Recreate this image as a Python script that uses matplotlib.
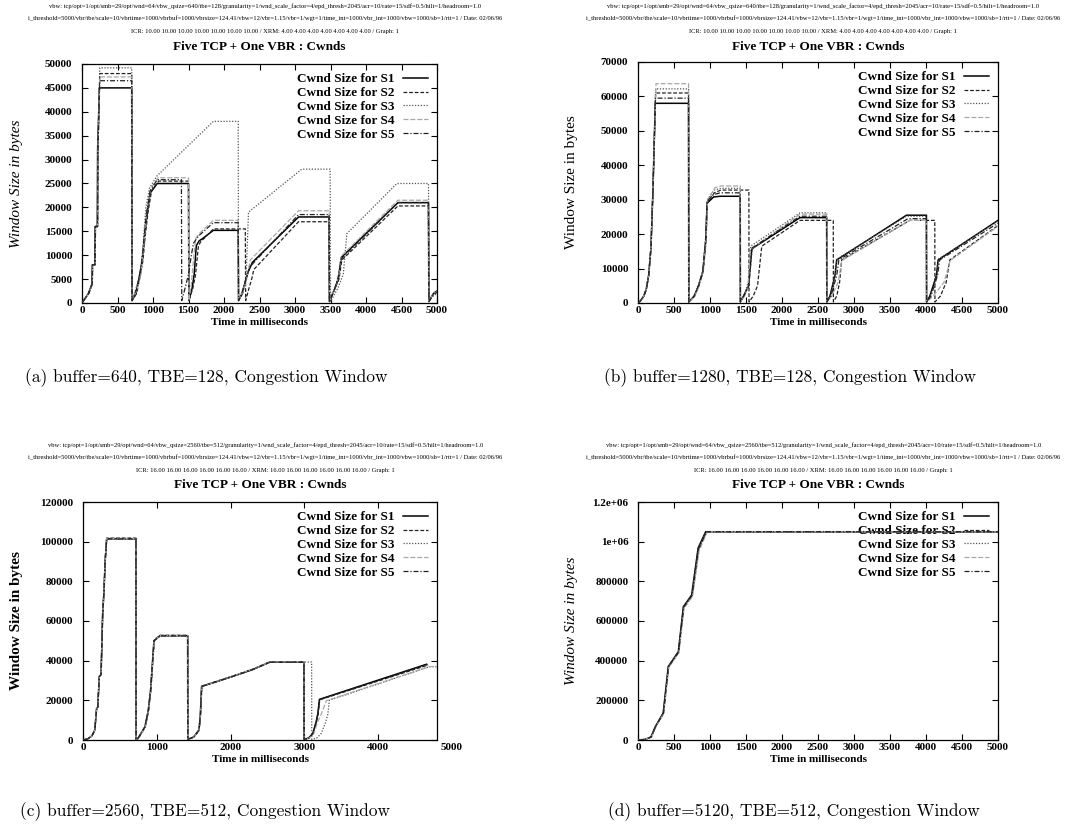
import matplotlib
matplotlib.use("Agg")
import matplotlib.pyplot as plt

# ---- data : (time ms, cwnd bytes) knots ----

# (a) buffer=640, TBE=128
a_s1 = [(0,0),(90,2000),(140,4000),(145,8000),(180,8000),(185,16000),(215,16000),(220,32000),(245,45000),(700,45000),(705,500),(760,2000),(800,5000),(850,9000),(880,14000),(920,19000),(960,23000),(1060,25000),(1500,25000),(1505,500),(1550,3000),(1580,6000),(1610,12000),(1650,13000),(1700,13500),(1850,15200),(2200,15200),(2205,500),(2260,2000),(2300,4500),(2340,6500),(2400,8500),(3050,18000),(3480,18000),(3485,300),(3560,3000),(3610,5000),(3650,9500),(4450,21000),(4880,21000),(4885,300),(4950,2000),(5000,2500)]
a_s2 = [(0,0),(95,2000),(145,4000),(150,8000),(185,8000),(190,16000),(220,16000),(225,32000),(250,48000),(700,48000),(705,500),(770,2000),(810,5000),(860,9000),(890,14000),(930,19000),(980,23500),(1080,25500),(1500,25500),(1505,500),(1560,3000),(1600,6000),(1640,12000),(1680,13000),(1720,13500),(1850,15500),(2300,15500),(2305,500),(2350,3000),(2390,5000),(2420,7000),(3050,17000),(3480,17000),(3485,300),(3560,3000),(3620,5000),(3660,9000),(4450,20300),(4880,20300),(4885,300),(4950,2000),(5000,2500)]
a_s3 = [(0,0),(95,2000),(145,4000),(150,8000),(185,8000),(190,16000),(220,16000),(225,32000),(250,49200),(700,49200),(705,500),(760,3000),(820,6000),(860,12000),(900,20000),(950,24000),(1050,26500),(1850,38000),(2200,38000),(2205,500),(2260,2500),(2310,5000),(2345,19000),(3095,28000),(3495,28000),(3500,300),(3600,3000),(3680,6000),(3730,14500),(4435,25000),(4880,25000),(4885,300),(4950,1500),(5000,2000)]
a_s4 = [(0,0),(95,2000),(145,4000),(150,8000),(185,8000),(190,16000),(220,16000),(225,32000),(250,47300),(700,47300),(705,500),(780,3000),(830,6000),(870,12000),(910,19000),(970,24000),(1070,26200),(1500,26200),(1505,500),(1540,4000),(1570,9000),(1600,13500),(1650,14500),(1850,17300),(2200,17300),(2205,500),(2270,2500),(2320,5000),(2370,9000),(3050,19300),(3480,19300),(3485,300),(3560,3000),(3620,6000),(3650,9800),(4450,21500),(4880,21500),(4885,300),(4950,2000),(5000,2300)]
a_s5 = [(0,0),(95,2000),(145,4000),(150,8000),(185,8000),(190,16000),(220,16000),(225,32000),(250,46500),(700,46500),(705,500),(770,3000),(820,6000),(860,11000),(900,18000),(960,23500),(1060,25800),(1400,25800),(1405,500),(1450,3000),(1500,6000),(1540,10000),(1570,12500),(1640,14000),(1850,16800),(2200,16800),(2205,500),(2260,2500),(2310,5000),(2360,7500),(3050,18500),(3480,18500),(3485,300),(3560,3000),(3610,5500),(3650,9200),(4450,21000),(4880,21000),(4885,300),(4950,1800),(5000,2200)]

# (b) buffer=1280, TBE=128
b_s1 = [(0,0),(30,500),(80,2000),(115,4000),(148,8000),(180,16000),(208,33000),(240,58000),(702,58000),(705,300),(780,2000),(840,5000),(900,9000),(940,18000),(960,29000),(1050,30800),(1140,31000),(1420,31000),(1422,300),(1465,2000),(1534,5000),(1580,15500),(1600,16000),(2250,24800),(2620,24800),(2622,300),(2666,2000),(2736,8000),(2759,12500),(3729,25500),(4006,25500),(4008,300),(4053,2000),(4145,8000),(4168,12500),(5000,24000)]
b_s2 = [(0,0),(30,500),(80,2000),(115,4000),(148,8000),(180,16000),(208,33000),(245,61000),(702,61000),(705,300),(785,2000),(845,5000),(905,9000),(945,18000),(965,29500),(1060,32000),(1150,32800),(1540,32800),(1542,300),(1600,2000),(1660,5000),(1719,16500),(2250,24000),(2712,24000),(2714,300),(2760,2000),(2800,6000),(2828,12500),(3775,24000),(4122,24000),(4124,300),(4200,2000),(4280,6000),(4330,12500),(5000,22500)]
b_s3 = [(0,0),(30,500),(80,2000),(115,4000),(148,8000),(180,16000),(208,33000),(245,62200),(702,62200),(705,300),(780,2000),(840,5000),(900,9500),(940,19000),(962,30000),(1060,32800),(1150,33300),(1420,33300),(1422,300),(1470,2000),(1530,6000),(1565,16500),(2250,26200),(2620,26200),(2622,300),(2670,2000),(2740,8000),(2765,12800),(3729,25200),(4006,25200),(4008,300),(4060,2000),(4150,8000),(4175,12800),(5000,23800)]
b_s4 = [(0,0),(30,500),(80,2000),(115,4000),(148,8000),(180,16000),(208,33000),(250,63700),(702,63700),(705,300),(790,2000),(850,5000),(905,9500),(945,19000),(968,30000),(1070,33500),(1150,34000),(1420,34000),(1422,300),(1480,2000),(1530,5000),(1560,15500),(2250,25800),(2620,25800),(2622,300),(2690,2000),(2780,6000),(2830,12300),(3775,24000),(4006,24000),(4008,300),(4100,2000),(4250,6000),(4335,12300),(5000,22300)]
b_s5 = [(0,0),(30,500),(80,2000),(115,4000),(148,8000),(180,16000),(208,33000),(242,59500),(702,59500),(705,300),(780,2000),(840,5000),(900,9200),(940,18500),(960,29500),(1050,31500),(1140,32000),(1420,32000),(1422,300),(1470,2000),(1540,5000),(1585,16000),(2250,25200),(2620,25200),(2622,300),(2680,2000),(2760,8000),(2790,12500),(3750,24500),(4006,24500),(4008,300),(4070,2000),(4160,8000),(4190,12500),(5000,23200)]

# (c) buffer=2560, TBE=512
c_s1 = [(0,0),(60,500),(120,2000),(160,5000),(185,16000),(200,16500),(221,32000),(245,33000),(267,64000),(285,75000),(300,90000),(321,101500),(718,101500),(720,300),(745,800),(840,6700),(885,15000),(916,25000),(962,50000),(1043,52600),(1419,52600),(1421,300),(1500,1500),(1572,5000),(1590,12000),(1608,27000),(2025,32000),(2300,35500),(2535,39300),(2996,39300),(2998,300),(3060,1000),(3116,3300),(3160,9000),(3183,13000),(3206,20500),(4659,38200)]
c_s2 = [(0,0),(60,500),(120,2000),(160,5000),(185,16000),(200,16500),(221,32000),(245,33000),(267,64500),(285,75500),(300,90500),(321,101800),(718,101800),(720,300),(750,800),(845,6700),(890,15000),(920,25000),(966,50500),(1045,52800),(1419,52800),(1421,300),(1505,1500),(1575,5000),(1593,12000),(1612,27200),(2025,32200),(2300,35700),(2535,39500),(2996,39500),(2998,300),(3065,1000),(3120,3300),(3165,9000),(3188,13000),(3210,20300),(4680,37800)]
c_s3 = [(0,0),(60,500),(120,2000),(160,5000),(185,16000),(200,16500),(221,32000),(245,33000),(267,64000),(285,75000),(300,90000),(321,101200),(718,101200),(720,300),(750,800),(845,6700),(890,15000),(920,25000),(966,50000),(1045,52400),(1419,52400),(1421,300),(1505,1500),(1575,5000),(1593,12000),(1612,27000),(2025,32000),(2300,35500),(2535,39300),(3100,39300),(3102,300),(3170,1000),(3230,3300),(3290,9000),(3320,13000),(3340,20000),(4700,37000),(4800,37000)]
c_s4 = [(0,0),(60,500),(120,2000),(160,5000),(185,16000),(200,16500),(221,32000),(245,33000),(267,64200),(285,75200),(300,90200),(321,101600),(718,101600),(720,300),(748,800),(842,6700),(888,15000),(918,25000),(964,50200),(1044,52700),(1419,52700),(1421,300),(1502,1500),(1574,5000),(1592,12000),(1610,27100),(2025,32100),(2300,35600),(2535,39400),(2996,39400),(2998,300),(3070,1000),(3130,3300),(3180,9000),(3230,13000),(3300,19800),(4700,37000),(4800,37000)]
c_s5 = [(0,0),(60,500),(120,2000),(160,5000),(185,16000),(200,16500),(221,32000),(245,33000),(267,64100),(285,75100),(300,90100),(321,101400),(718,101400),(720,300),(746,800),(841,6700),(886,15000),(917,25000),(963,50100),(1044,52500),(1419,52500),(1421,300),(1501,1500),(1573,5000),(1591,12000),(1609,27000),(2025,32000),(2300,35500),(2535,39200),(2996,39200),(2998,300),(3062,1000),(3118,3300),(3162,9000),(3185,13000),(3208,20400),(4670,38000)]

# (d) buffer=5120, TBE=512
d_s1 = [(0,0),(100,3000),(180,15000),(240,67000),(350,136000),(420,370000),(560,445000),(630,672000),(745,731000),(835,968000),(940,1050000),(5000,1050000)]
d_s2 = [(0,0),(100,3000),(185,15000),(245,67000),(355,134000),(425,368000),(565,442000),(635,668000),(752,728000),(842,960000),(945,1045000),(960,1050000),(5000,1050000)]
d_s3 = [(0,0),(100,3000),(182,15000),(242,66000),(352,135000),(422,369000),(562,444000),(632,670000),(748,730000),(838,965000),(942,1048000),(955,1050000),(5000,1050000)]
d_s4 = [(0,0),(100,3000),(188,15000),(248,66000),(358,133000),(428,366000),(568,440000),(640,664000),(758,724000),(850,955000),(950,1040000),(965,1050000),(5000,1050000)]
d_s5 = [(0,0),(100,3000),(183,15000),(243,67000),(353,135000),(423,369000),(563,443000),(633,669000),(750,729000),(840,962000),(943,1046000),(958,1050000),(5000,1050000)]

series_names = ["Cwnd Size for S1", "Cwnd Size for S2", "Cwnd Size for S3",
                "Cwnd Size for S4", "Cwnd Size for S5"]

a_yticks = [0, 5000, 10000, 15000, 20000, 25000, 30000, 35000, 40000, 45000, 50000]
b_yticks = [0, 10000, 20000, 30000, 40000, 50000, 60000, 70000]
c_yticks = [0, 20000, 40000, 60000, 80000, 100000, 120000]
d_yticks = [0, 200000, 400000, 600000, 800000, 1000000, 1200000]
d_yticklabels = ["0", "200000", "400000", "600000", "800000", "1e+06", "1.2e+06"]
x_ticks_500 = [0, 500, 1000, 1500, 2000, 2500, 3000, 3500, 4000, 4500, 5000]
x_ticks_1000 = [0, 1000, 2000, 3000, 4000]

captions = ["(a) buffer=640, TBE=128, Congestion Window",
            "(b) buffer=1280, TBE=128, Congestion Window",
            "(c) buffer=2560, TBE=512, Congestion Window",
            "(d) buffer=5120, TBE=512, Congestion Window"]

header_top = ["vbw: tcp/opt=1/opt/smb=29/opt/wnd=64/vbw_qsize=640/tbe=128/granularity=1/wnd_scale_factor=4/epd_thresh=2045/acr=10/rate=15/sdf=0.5/hilt=1/headroom=1.0",
              "i_threshold=5000/vbr/tbe/scale=10/vbrtime=1000/vbrbuf=1000/vbrsize=124.41/vbw=12/vbr=1.15/vbr=1/wgt=1/time_int=1000/vbr_int=1000/vbw=1000/sb=1/rtt=1 / Date: 02/06/96",
              "ICR: 10.00 10.00 10.00 10.00 10.00 10.00 10.00 / XRM: 4.00 4.00 4.00 4.00 4.00 4.00 4.00 / Graph: 1"]
header_bot = ["vbw: tcp/opt=1/opt/smb=29/opt/wnd=64/vbw_qsize=2560/tbe=512/granularity=1/wnd_scale_factor=4/epd_thresh=2045/acr=10/rate=15/sdf=0.5/hilt=1/headroom=1.0",
              "i_threshold=5000/vbr/tbe/scale=10/vbrtime=1000/vbrbuf=1000/vbrsize=124.41/vbw=12/vbr=1.15/vbr=1/wgt=1/time_int=1000/vbr_int=1000/vbw=1000/sb=1/rtt=1 / Date: 02/06/96",
              "ICR: 16.00 16.00 16.00 16.00 16.00 16.00 / XRM: 16.00 16.00 16.00 16.00 16.00 16.00 / Graph: 1"]

# ---- styling ----
plt.rcParams['font.family'] = ['Liberation Serif', 'DejaVu Serif']
styles = [
    dict(color='black', lw=1.1, ls='-'),
    dict(color='#222222', lw=0.9, ls=(0, (3, 1.5))),
    dict(color='#555555', lw=0.9, ls=(0, (1, 1.3))),
    dict(color='#a8a8a8', lw=0.9, ls=(0, (4, 1.5))),
    dict(color='#222222', lw=0.9, ls=(0, (4, 1.5, 1, 1.5))),
]

W, H = 1072, 826
fig = plt.figure(figsize=(W / 100, H / 100), dpi=100)


def box(x0, x1, ytop, ybot):
    return [x0 / W, 1 - ybot / H, (x1 - x0) / W, (ybot - ytop) / H]


panels = [
    dict(rect=box(82, 437, 64, 303), data=[a_s1, a_s2, a_s3, a_s4, a_s5],
         xlim=5000, xt=x_ticks_500, ylim=50000, yt=a_yticks, ylab_style='italic', ylab_w='normal', ylx=17),
    dict(rect=box(638, 998, 62, 303), data=[b_s1, b_s2, b_s3, b_s4, b_s5],
         xlim=5000, xt=x_ticks_500, ylim=70000, yt=b_yticks, ylab_style='normal', ylab_w='normal', ylx=572),
    dict(rect=box(83, 437, 502, 740), data=[c_s1, c_s2, c_s3, c_s4, c_s5],
         xlim=4800, xt=x_ticks_1000, ylim=120000, yt=c_yticks, ylab_style='normal', ylab_w='bold', ylx=17),
    dict(rect=box(638, 998, 502, 740), data=[d_s1, d_s2, d_s3, d_s4, d_s5],
         xlim=5000, xt=x_ticks_500, ylim=1200000, yt=d_yticks, ylab_style='italic', ylab_w='normal', ylx=572),
]

for i, p in enumerate(panels):
    ax = fig.add_axes(p['rect'])
    for pts, st, name in zip(p['data'], styles, series_names):
        t = [q[0] for q in pts]
        w = [q[1] for q in pts]
        ax.plot(t, w, color=st['color'], lw=st['lw'], linestyle=st['ls'], label=name, zorder=3)
    ax.set_xlim(0, p['xlim'])
    ax.set_ylim(0, p['ylim'])
    ax.set_xticks(p['xt'])
    ax.set_yticks(p['yt'])
    if i == 3:
        ax.set_yticklabels(d_yticklabels)
    ax.tick_params(direction='in', top=True, right=True, length=4, width=0.8,
                   labelsize=8)
    ax.tick_params(axis='x', pad=2)
    ax.tick_params(axis='y', pad=7)
    for lab in ax.get_xticklabels() + ax.get_yticklabels():
        lab.set_fontweight('bold')
    for sp in ax.spines.values():
        sp.set_linewidth(0.9)
    if i == 2:
        # gnuplot put a 5000 tic label beyond the clipped range
        ax.text(5000, -0.012, "5000", transform=ax.get_xaxis_transform(),
                ha='center', va='top', fontsize=8, fontweight='bold', clip_on=False)
    leg = ax.legend(loc='upper right', frameon=False, markerfirst=False,
                    prop=dict(size=9.5, weight='bold'), handlelength=1.9,
                    handletextpad=0.6, labelspacing=0.12, borderpad=0.3,
                    borderaxespad=0.4)
    leg.set_zorder(1)

    pos = ax.get_position()
    xc = pos.x0 + pos.width / 2
    ytop_px = 47 if i < 2 else 485
    fig.text(xc, 1 - ytop_px / H, "Five TCP + One VBR : Cwnds", ha='center', va='center',
             fontsize=9.5, fontweight='bold')
    hdr = header_top if i < 2 else header_bot
    hy = [6, 18, 31] if i < 2 else [445, 457, 470]
    for line, y in zip(hdr, hy):
        fig.text(xc + 0.005, 1 - y / H, line, ha='center', va='center', fontsize=4.7)
    xl_px = 322 if i < 2 else 760
    fig.text(xc, 1 - xl_px / H, "Time in milliseconds", ha='center', va='center',
             fontsize=8, fontweight='bold')
    fig.text(p['ylx'] / W, pos.y0 + pos.height / 2, "Window Size in bytes", rotation=90,
             ha='center', va='center', fontsize=11, style=p['ylab_style'],
             fontweight=p['ylab_w'])

cap_pos = [(206, 378), (790, 378), (205, 812), (794, 812)]
for cap, (cx, cy) in zip(captions, cap_pos):
    fig.text(cx / W, 1 - cy / H, cap, ha='center', va='center', fontsize=12.5,
             family=['cmr10', 'DejaVu Serif'])

fig.savefig("out.png", dpi=100)
